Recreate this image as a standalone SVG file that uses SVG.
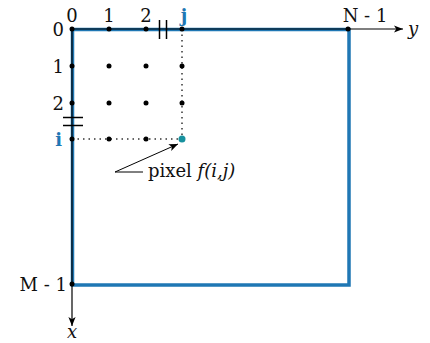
<svg xmlns="http://www.w3.org/2000/svg" width="430" height="343" viewBox="0 0 430 343">
<defs>
<marker id="ah" viewBox="0 0 10 10" refX="10" refY="5" markerWidth="9" markerHeight="9" orient="auto" markerUnits="userSpaceOnUse"><path d="M0,1 L10,5 L0,9 L2.5,5 Z" fill="#000"/></marker>
<style>
text{font-family:"DejaVu Serif","Liberation Serif",serif;font-size:18px;fill:#111}
.b{fill:#1f77b4;font-weight:bold}
.it{font-style:italic}
.d{fill:#000}
</style>
</defs>
<g id="frame"><rect x="72.5" y="29.5" width="276.5" height="255.5" fill="none" stroke="#1f77b4" stroke-width="3.5"/></g>
<g id="connectors">
<line x1="72" y1="29" x2="403" y2="29" stroke="#000" stroke-width="1.2" marker-end="url(#ah)"/>
<line x1="72" y1="29" x2="72" y2="326" stroke="#000" stroke-width="1.2" marker-end="url(#ah)"/>
<line x1="72" y1="139" x2="182" y2="139" stroke="#333" stroke-width="1.5" stroke-dasharray="1.5 4"/>
<line x1="182" y1="29" x2="182" y2="139" stroke="#333" stroke-width="1.5" stroke-dasharray="1.5 4"/>
<line x1="159.5" y1="20" x2="159.5" y2="39" stroke="#000" stroke-width="1.5"/>
<line x1="166.5" y1="20" x2="166.5" y2="39" stroke="#000" stroke-width="1.5"/>
<line x1="63" y1="117.5" x2="83" y2="117.5" stroke="#000" stroke-width="1.5"/>
<line x1="63" y1="125.5" x2="83" y2="125.5" stroke="#000" stroke-width="1.5"/>
<polyline points="143,172 115,172 178,144" fill="none" stroke="#000" stroke-width="1" marker-end="url(#ah)"/>
</g>
<g id="dots">
<circle class="d" cx="72" cy="29" r="2.5"/><circle class="d" cx="109" cy="29" r="2.5"/><circle class="d" cx="146" cy="29" r="2.5"/><circle class="d" cx="182" cy="29" r="2.5"/>
<circle class="d" cx="72" cy="66" r="2.5"/><circle class="d" cx="109" cy="66" r="2.5"/><circle class="d" cx="146" cy="66" r="2.5"/><circle class="d" cx="182" cy="66" r="2.5"/>
<circle class="d" cx="72" cy="103" r="2.5"/><circle class="d" cx="109" cy="103" r="2.5"/><circle class="d" cx="146" cy="103" r="2.5"/><circle class="d" cx="182" cy="103" r="2.5"/>
<circle class="d" cx="72" cy="139" r="2.5"/><circle class="d" cx="109" cy="139" r="2.5"/><circle class="d" cx="146" cy="139" r="2.5"/>
<circle cx="182" cy="139" r="3.5" fill="#17919e"/>
<circle class="d" cx="348" cy="29" r="2.5"/><circle class="d" cx="72" cy="284" r="2.5"/>
</g>
<g id="labels">
<text x="72" y="22" text-anchor="middle">0</text>
<text x="109" y="22" text-anchor="middle">1</text>
<text x="146" y="22" text-anchor="middle">2</text>
<text class="b" x="184" y="22" text-anchor="middle">j</text>
<text x="365" y="22" text-anchor="middle">N - 1</text>
<text class="it" x="408" y="35">y</text>
<text x="64" y="36" text-anchor="end">0</text>
<text x="64" y="73" text-anchor="end">1</text>
<text x="64" y="110" text-anchor="end">2</text>
<text class="b" x="62" y="146" text-anchor="end">i</text>
<text x="67" y="291" text-anchor="end">M - 1</text>
<text class="it" x="72" y="338" text-anchor="middle">x</text>
<text x="148" y="177">pixel <tspan class="it">f(i,j)</tspan></text>
</g>
</svg>
